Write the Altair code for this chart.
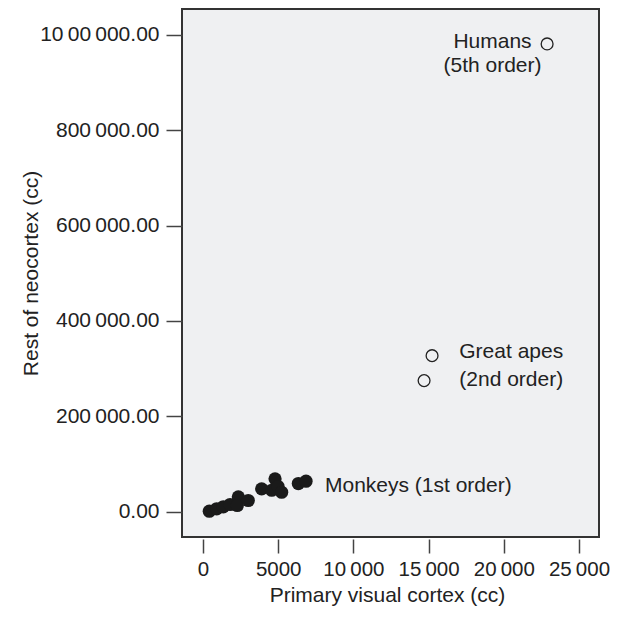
import altair as alt
import pandas as pd

# Monkeys (filled)
monkey_x = [420, 910, 1350, 1800, 2350, 2280, 3010, 3900, 4790, 4570, 4990, 5230, 6340, 6850]
monkey_y = [600, 5700, 9900, 14700, 30800, 12600, 23100, 47600, 68500, 44600, 52400, 40400, 58700, 63500]

# Great apes and humans (open)
open_x = [15230, 14700, 22880]
open_y = [327000, 274600, 981000]

# Annotations
ann_center_text = ["Humans", "(5th order)"]
ann_center_x = [19250, 19250]
ann_center_y = [971900, 922200]

ann_left_text = ["Great apes", "(2nd order)", "Monkeys (1st order)"]
ann_left_x = [17040, 17040, 8110]
ann_left_y = [322200, 262600, 40500]

x_ticks = [0, 5000, 10000, 15000, 20000, 25000]
x_labels = ["0", "5000", "10\u2009000", "15\u2009000", "20\u2009000", "25\u2009000"]
y_ticks = [0, 200000, 400000, 600000, 800000, 1000000]
y_labels = ["0.00", "200\u2009000.00", "400\u2009000.00", "600\u2009000.00", "800\u2009000.00", "10\u200900\u2009000.00"]

x_domain = [-1396, 26330]
y_domain = [-53500, 1054300]


def label_expr(values, labels):
    expr = "''"
    for v, l in reversed(list(zip(values, labels))):
        expr = f"datum.value == {v} ? '{l}' : ({expr})"
    return expr


FONT = "Liberation Sans"
INK = "#222222"

monkeys = pd.DataFrame({"x": monkey_x, "y": monkey_y})
opens = pd.DataFrame({"x": open_x, "y": open_y})
ann_c = pd.DataFrame({"x": ann_center_x, "y": ann_center_y, "t": ann_center_text})
ann_l = pd.DataFrame({"x": ann_left_x, "y": ann_left_y, "t": ann_left_text})

xs = alt.Scale(domain=x_domain, nice=False, zero=False)
ys = alt.Scale(domain=y_domain, nice=False, zero=False)

x_axis = alt.Axis(
    title="Primary visual cortex (cc)",
    values=x_ticks,
    labelExpr=label_expr(x_ticks, x_labels),
    domain=False, grid=False,
    offset=2, tickSize=14, tickWidth=1.5, tickColor="#444444",
    labelPadding=6, labelFontSize=20.5, labelFont=FONT, labelColor=INK,
    labelFlush=False, labelOverlap=False,
    titleFontSize=21, titleFont=FONT, titleColor=INK, titleFontWeight="normal",
    titleX=205, titleY=62, titleBaseline="alphabetic", titleAlign="center",
)
y_axis = alt.Axis(
    title="Rest of neocortex (cc)",
    values=y_ticks,
    labelExpr=label_expr(y_ticks, y_labels),
    domain=False, grid=False,
    tickSize=16, tickWidth=1.5, tickColor="#444444",
    labelPadding=7, labelFontSize=21, labelFont=FONT, labelColor=INK,
    labelFlush=False, labelOverlap=False,
    titleFontSize=21, titleFont=FONT, titleColor=INK, titleFontWeight="normal",
    titleX=-145, titleY=264, titleBaseline="alphabetic", titleAlign="center",
    titleAngle=270,
)

base_x = alt.X("x:Q", scale=xs, axis=x_axis)
base_y = alt.Y("y:Q", scale=ys, axis=y_axis)

filled = alt.Chart(monkeys).mark_circle(size=175, color="#1a1a1a", opacity=1).encode(x=base_x, y=base_y)
hollow = alt.Chart(opens).mark_point(shape="circle", size=140, filled=False, color="#222222",
                                     strokeWidth=1.3, opacity=1).encode(x="x:Q", y="y:Q")
txt_c = alt.Chart(ann_c).mark_text(align="center", baseline="alphabetic", fontSize=21,
                                   font=FONT, color=INK).encode(x="x:Q", y="y:Q", text="t:N")
txt_l = alt.Chart(ann_l).mark_text(align="left", baseline="alphabetic", fontSize=21,
                                   font=FONT, color=INK).encode(x="x:Q", y="y:Q", text="t:N")

chart = (
    alt.layer(filled, hollow, txt_c, txt_l)
    .properties(
        width=417, height=528,
        autosize=alt.AutoSizeParams(type="none"),
        padding={"left": 174, "top": 1, "right": 11, "bottom": 70},
        background="white",
    )
    .configure_view(fill="#eff0f2", stroke="#333333", strokeWidth=2)
)

chart.save("out.html", embed_options={"renderer": "svg", "actions": False})
